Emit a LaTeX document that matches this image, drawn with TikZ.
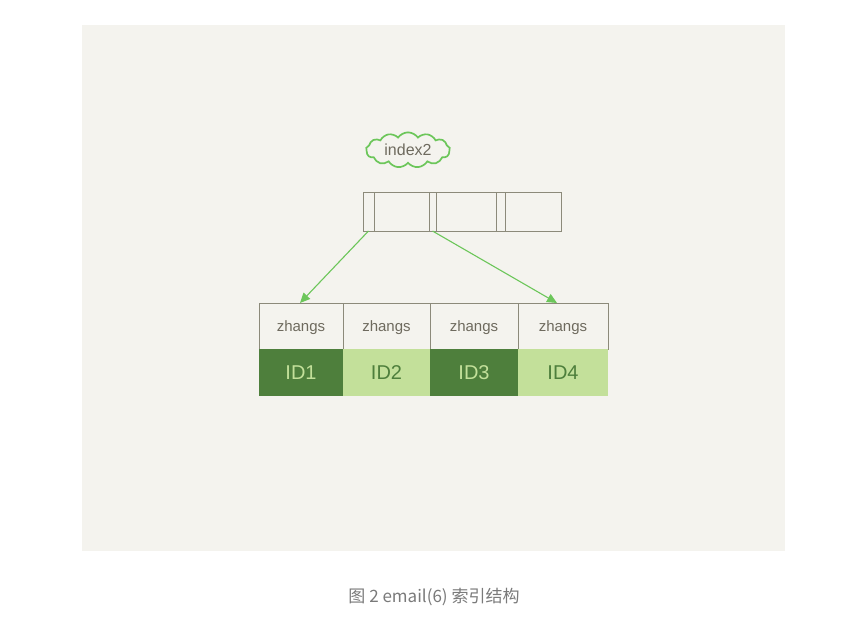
\documentclass[tikz,border=0pt]{standalone}
\usepackage{fontspec}
\setmainfont{Liberation Sans}
\newfontfamily\cjk{Noto Sans CJK SC}
\usetikzlibrary{arrows.meta,positioning,shapes.symbols}
\definecolor{panel}{HTML}{F4F3EE}
\definecolor{boxline}{HTML}{8C8A7A}
\definecolor{inkgray}{HTML}{6E6A5E}
\definecolor{leafdark}{HTML}{4E7F3C}
\definecolor{leaflight}{HTML}{C3E09A}
\definecolor{linkgreen}{HTML}{6CC65A}
\definecolor{captiongray}{HTML}{7A7A7A}
\tikzset{
 keycell/.style={draw=boxline,line width=0.8pt,minimum height=46pt,inner sep=0pt,outer sep=0pt,
  text=inkgray,font=\fontsize{15}{15}\selectfont,text height=13pt,text depth=1pt},
 darkid/.style={fill=leafdark,minimum height=47pt,inner sep=0pt,outer sep=0pt,
  text=leaflight,font=\fontsize{20}{20}\selectfont},
 lightid/.style={fill=leaflight,minimum height=47pt,inner sep=0pt,outer sep=0pt,
  text=leafdark,font=\fontsize{20}{20}\selectfont},
 topcell/.style={draw=boxline,line width=0.8pt,minimum height=39pt,inner sep=0pt,outer sep=0pt},
 link/.style={linkgreen,line width=1.1pt,-{Triangle[length=10pt,width=9pt]}}
}
\begin{document}
\begin{tikzpicture}[x=1pt,y=-1pt]
\useasboundingbox (0,0) rectangle (855,617);
\fill[white] (0,0) rectangle (855,617);
\fill[panel] (82,25) rectangle (785,551);
% index name
\node[cloud,draw=linkgreen,line width=1.7pt,cloud puffs=13,cloud puff arc=110,aspect=2.4,
 minimum width=84pt,minimum height=34pt,inner sep=0pt,text=inkgray,font=\fontsize{16}{16}\selectfont]
 (idx) at (408,150) {index2};
% top page
\node[topcell,minimum width=11pt,anchor=north west] (p1) at (363,192) {};
\node[topcell,minimum width=55pt,right=0pt of p1] (v1) {};
\node[topcell,minimum width=7pt,right=0pt of v1] (p2) {};
\node[topcell,minimum width=60pt,right=0pt of p2] (v2) {};
\node[topcell,minimum width=9pt,right=0pt of v2] (p3) {};
\node[topcell,minimum width=56pt,right=0pt of p3] (v3) {};
% leaf page
\node[keycell,minimum width=84pt,anchor=north west] (k1) at (259,303) {zhangs};
\node[keycell,minimum width=87pt,right=0pt of k1] (k2) {zhangs};
\node[keycell,minimum width=88pt,right=0pt of k2] (k3) {zhangs};
\node[keycell,minimum width=90pt,right=0pt of k3] (k4) {zhangs};
\node[darkid,minimum width=84pt,below=0pt of k1] (i1) {ID1};
\node[lightid,minimum width=87pt,below=0pt of k2] (i2) {ID2};
\node[darkid,minimum width=88pt,below=0pt of k3] (i3) {ID3};
\node[lightid,minimum width=90pt,below=0pt of k4] (i4) {ID4};
\draw[link] (p1.south) -- ([xshift=-1pt]k1.north);
\draw[link] (p2.south) -- ([xshift=-6pt]k4.north);
\node[text=captiongray,font=\cjk\fontsize{17}{17}\selectfont] (cap) at (434,597) {图 2 email(6) 索引结构};
\end{tikzpicture}
\end{document}
